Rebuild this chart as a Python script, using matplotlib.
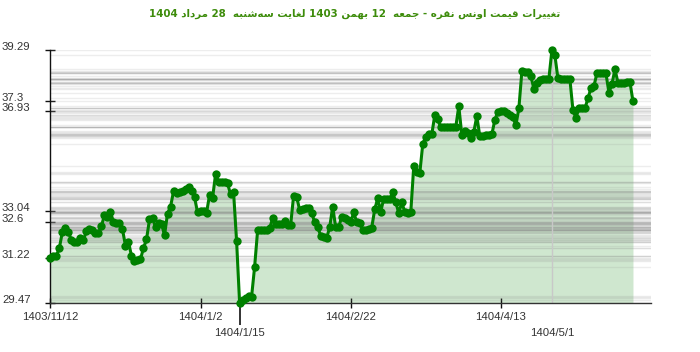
import matplotlib
matplotlib.use("Agg")
import matplotlib.pyplot as plt
import matplotlib.transforms as mtransforms

# ---------------- data ----------------
title_text = "تغییرات قیمت اونس نقره - جمعه  12 بهمن 1403 لغایت سه‌شنبه  28 مرداد 1404"

prices = [
    31.22, 31.27, 31.29, 31.61, 32.23, 32.36, 32.23, 31.89, 31.85, 31.85,
    31.99, 31.91, 32.26, 32.32, 32.28, 32.19, 32.17, 32.45, 32.88, 32.82,
    32.99, 32.62, 32.59, 32.57, 32.33, 31.68, 31.84, 31.29, 31.10, 31.15,
    31.16, 31.60, 31.93, 32.71, 32.75, 32.42, 32.57, 32.55, 32.09, 32.94,
    33.20, 33.80, 33.73, 33.78, 33.80, 33.91, 33.99, 33.83, 33.57, 32.98,
    33.04, 33.02, 32.97, 33.66, 33.54, 34.47, 34.18, 34.18, 34.15, 34.11,
    33.68, 33.76, 31.87, 29.47, 29.59, 29.67, 29.73, 29.71, 30.86, 32.28,
    32.30, 32.30, 32.30, 32.36, 32.75, 32.53, 32.52, 32.52, 32.65, 32.51,
    32.49, 33.64, 33.59, 33.08, 33.12, 33.16, 33.17, 32.95, 32.62, 32.42,
    32.08, 32.03, 32.00, 32.40, 33.21, 32.40, 32.40, 32.82, 32.75, 32.69,
    32.60, 32.98, 32.61, 32.57, 32.30, 32.30, 32.32, 32.39, 33.10, 33.53,
    33.01, 33.52, 33.52, 33.50, 33.76, 33.39, 32.95, 33.37, 33.01, 32.97,
    32.98, 34.79, 34.57, 34.50, 35.65, 35.93, 36.02, 36.02, 36.77, 36.60,
    36.29, 36.31, 36.31, 36.31, 36.31, 36.32, 37.12, 35.99, 36.15, 36.07,
    35.88, 36.12, 36.73, 35.94, 35.96, 35.98, 36.00, 36.02, 36.58, 36.90,
    36.93, 36.93, 36.86, 36.77, 36.70, 36.37, 37.03, 38.47, 38.46, 38.43,
    38.29, 37.79, 38.00, 38.14, 38.17, 38.17, 38.19, 39.29, 39.09, 38.20,
    38.17, 38.16, 38.16, 38.16, 36.97, 36.66, 37.03, 37.03, 37.03, 37.42,
    37.81, 37.90, 38.40, 38.41, 38.41, 38.39, 37.64, 37.98, 38.55, 38.03,
    38.03, 38.03, 38.04, 38.05, 37.30,
]

major_tick_idx = [0, 50, 100, 150]
major_tick_labels = ["1403/11/12", "1404/1/2", "1404/2/22", "1404/4/13"]
special_tick_idx = [63, 167]          # min and max points
special_tick_labels = ["1404/1/15", "1404/5/1"]
ytick_values = [29.47, 31.22, 32.6, 33.04, 36.93, 37.3, 39.29]
ytick_labels = ["29.47", "31.22", "32.6", "33.04", "36.93", "37.3", "39.29"]


# ------------- simple Arabic/Persian shaping for display -------------
FORMS = {  # iso, fin, ini, med
    "ا": ("\uFE8D", "\uFE8E", None, None),
    "ب": ("\uFE8F", "\uFE90", "\uFE91", "\uFE92"),
    "ت": ("\uFE95", "\uFE96", "\uFE97", "\uFE98"),
    "ج": ("\uFE9D", "\uFE9E", "\uFE9F", "\uFEA0"),
    "د": ("\uFEA9", "\uFEAA", None, None),
    "ر": ("\uFEAD", "\uFEAE", None, None),
    "س": ("\uFEB1", "\uFEB2", "\uFEB3", "\uFEB4"),
    "ش": ("\uFEB5", "\uFEB6", "\uFEB7", "\uFEB8"),
    "ع": ("\uFEC9", "\uFECA", "\uFECB", "\uFECC"),
    "غ": ("\uFECD", "\uFECE", "\uFECF", "\uFED0"),
    "ق": ("\uFED5", "\uFED6", "\uFED7", "\uFED8"),
    "ل": ("\uFEDD", "\uFEDE", "\uFEDF", "\uFEE0"),
    "م": ("\uFEE1", "\uFEE2", "\uFEE3", "\uFEE4"),
    "ن": ("\uFEE5", "\uFEE6", "\uFEE7", "\uFEE8"),
    "ه": ("\uFEE9", "\uFEEA", "\uFEEB", "\uFEEC"),
    "و": ("\uFEED", "\uFEEE", None, None),
    "ی": ("\uFEEF", "\uFEF0", "\uFEF3", "\uFEF4"),
    "ي": ("\uFEF1", "\uFEF2", "\uFEF3", "\uFEF4"),
}


def is_dual(c):
    return c in FORMS and FORMS[c][2] is not None


def shape_word(w):
    out = []
    for k, c in enumerate(w):
        if c not in FORMS:
            out.append(c)
            continue
        prev = w[k - 1] if k > 0 else ""
        nxt = w[k + 1] if k + 1 < len(w) else ""
        jp = is_dual(prev)
        jn = is_dual(c) and (nxt in FORMS)
        iso, fin, ini, med = FORMS[c]
        if jp and jn:
            out.append(med)
        elif jp:
            out.append(fin)
        elif jn:
            out.append(ini)
        else:
            out.append(iso)
    return "".join(out)


def visual(text):
    toks = text.split(" ")
    res = []
    for t in reversed(toks):
        if any(ch in FORMS for ch in t):
            s = shape_word(t)[::-1].replace("\u200c", "")
            res.append(s)
        else:
            res.append(t)
    return " ".join(res)


# ---------------- figure ----------------
W, H = 700, 352
fig = plt.figure(figsize=(W / 100, H / 100), dpi=100)
ax_left, ax_right, ax_top, ax_bot = 50.4, 651, 50.3, 302.7
ax = fig.add_axes([ax_left / W, 1 - ax_bot / H, (ax_right - ax_left) / W, (ax_bot - ax_top) / H])

x = list(range(len(prices)))
ymin, ymax = min(prices), max(prices)
ax.set_xlim(0, 200)
ax.set_ylim(ymin, ymax)

# horizontal guide line at every value
for v in prices:
    ax.axhline(v, color="#8a8a8a", alpha=0.15, lw=1.0, zorder=2)

ax.fill_between(x, prices, ymin, color="#008000", alpha=0.19, lw=0, zorder=1)
ax.axvline(special_tick_idx[1], color="#c8c8c8", lw=1.0, zorder=2)
ax.plot(x, prices, color="#008000", lw=2.2, marker="o", markersize=6,
        markeredgewidth=0, zorder=5, clip_on=False, solid_joinstyle="round")

for s in ["top", "right"]:
    ax.spines[s].set_visible(False)
ax.spines["left"].set_color("#111111")
ax.spines["bottom"].set_color("#333333")
ax.spines["left"].set_linewidth(1.0)
ax.spines["bottom"].set_linewidth(1.0)

ax.set_xticks(major_tick_idx)
ax.set_xticklabels(major_tick_labels)
ax.set_xticks(special_tick_idx, minor=True)
ax.set_xticklabels(special_tick_labels, minor=True)
ax.tick_params(axis="x", which="major", direction="inout", length=7.2, width=1,
               color="#111111", pad=3.0, labelsize=8.2, labelcolor="#333333")
ax.tick_params(axis="x", which="minor", direction="out", length=16, width=1.2,
               color="#111111", pad=2.0, labelsize=8.2, labelcolor="#333333")
ax.xaxis.get_minor_ticks()[1].tick1line.set_visible(False)
for lab in ax.get_xticklabels() + ax.get_xticklabels(minor=True):
    lab.set_family(["Liberation Sans", "DejaVu Sans"])

ax.set_yticks(ytick_values)
ax.set_yticklabels([])
ax.tick_params(axis="y", direction="inout", length=7.2, width=1, color="#111111")
trans = mtransforms.blended_transform_factory(fig.transFigure, ax.transData)
for v, lab in zip(ytick_values, ytick_labels):
    fig.text(2 / W, v, lab, transform=trans, ha="left", va="baseline",
             fontsize=8.2, color="#333333", family=["Liberation Sans", "DejaVu Sans"])

fig.text(355 / W, 1 - 14 / H, visual(title_text), ha="center", va="center",
         fontsize=7.4, fontweight="bold", color="#3d8c0b", family=["DejaVu Sans"])

fig.savefig("out.png", dpi=100)
